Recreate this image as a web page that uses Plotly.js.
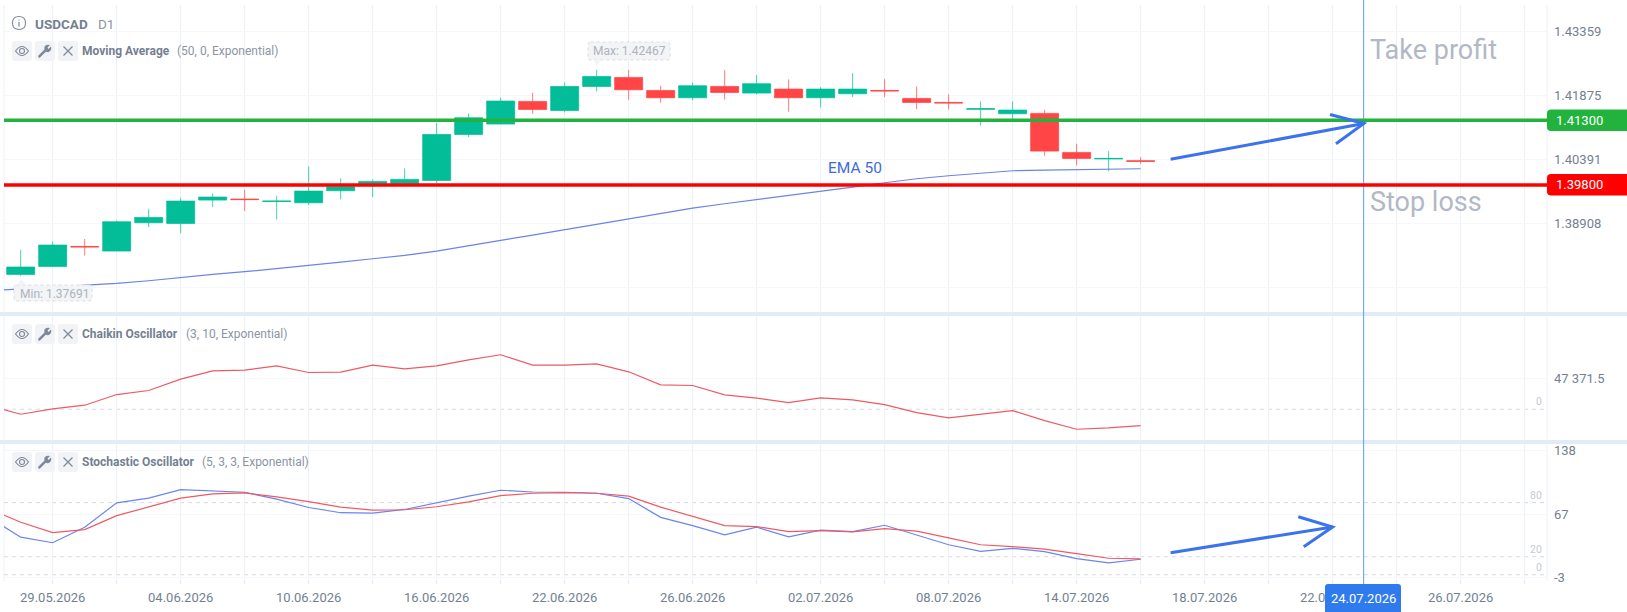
<!DOCTYPE html>
<html>
<head>
<meta charset="utf-8">
<script src="https://cdn.plot.ly/plotly-3.0.1.min.js"></script>
<style>html,body{margin:0;padding:0;background:#fff;overflow:hidden}#chart{width:1627px;height:612px}</style>
</head>
<body>
<div id="chart"></div>
<script>
// ---- data (bar index 0 = 29.05.2026) ----
const candleIdx = [-1,0,1,2,3,4,5,6,7,8,9,10,11,12,13,14,15,16,17,18,19,20,21,22,23,24,25,26,27,28,29,30,31,32,33,34];
const open  = [1.37725,1.37910,1.38374,1.38266,1.38923,1.38907,1.39448,1.39472,1.39414,1.39386,1.39665,1.39835,1.39835,1.39904,1.40971,1.41211,1.41736,1.41527,1.42084,1.42293,1.41991,1.41821,1.42084,1.41929,1.42022,1.41821,1.41914,1.41991,1.41806,1.41713,1.41555,1.41450,1.41458,1.40554,1.40402,1.40360];
const high  = [1.38297,1.38490,1.38544,1.38977,1.39247,1.39502,1.39603,1.39688,1.39549,1.40229,1.39951,1.39928,1.40183,1.41234,1.41458,1.41821,1.41937,1.42177,1.42467,1.42463,1.42099,1.42177,1.42460,1.42347,1.42246,1.42068,1.42393,1.42254,1.42084,1.41898,1.41736,1.41736,1.41543,1.40755,1.40584,1.40445];
const low   = [1.37691,1.37895,1.38165,1.38266,1.38822,1.38683,1.39286,1.39193,1.39000,1.39332,1.39464,1.39518,1.39835,1.39835,1.40909,1.41211,1.41450,1.41481,1.41968,1.41775,1.41705,1.41759,1.41782,1.41898,1.41497,1.41597,1.41837,1.41837,1.41558,1.41551,1.41180,1.41296,1.40476,1.40252,1.40113,1.40291];
const close = [1.37895,1.38405,1.38362,1.38946,1.39046,1.39425,1.39518,1.39460,1.39425,1.39657,1.39757,1.39881,1.39928,1.40971,1.41357,1.41744,1.41551,1.42084,1.42316,1.42007,1.41821,1.42099,1.41945,1.42146,1.41821,1.42022,1.42022,1.41979,1.41713,1.41700,1.41566,1.41535,1.40584,1.40414,1.40414,1.40348];

const lineIdx = [-2,-1,0,1,2,3,4,5,6,7,8,9,10,11,12,13,14,15,16,17,18,19,20,21,22,23,24,25,26,27,28,29,30,31,32,33,34];
const ema50 = [1.37346,1.37385,1.37423,1.37462,1.37516,1.37578,1.37655,1.37725,1.37787,1.37856,1.37933,1.38011,1.38088,1.38165,1.38266,1.38382,1.38513,1.38637,1.38760,1.38884,1.39008,1.39131,1.39263,1.39363,1.39464,1.39557,1.39657,1.39750,1.39850,1.39943,1.40013,1.40074,1.40128,1.40144,1.40152,1.40167,1.40175];
const chaikin = [6252,-7815,521,6252,22924,29176,46890,59915,60957,67730,57310,57831,68772,63041,67730,77108,84923,68772,68772,70856,58352,38033,36991,22403,17193,10420,17714,14588,7294,-5210,-13546,-7815,-2084,-17714,-31260,-29176,-25529];
const stochK = [63.7,41.7,35.5,52.7,79.8,84.9,94.4,92.9,91.5,83.8,74.6,68.8,68.4,72.4,79.8,87.1,93.7,91.8,91.5,90.4,84.5,63.7,54.5,44.3,52.7,42.1,49.4,47.9,54.9,44.3,33.3,26.0,29.3,25.6,17.9,13.2,17.2];
const stochD = [73.5,58.2,46.8,50.1,65.5,75.4,84.9,89.6,90.7,86.4,81.2,75.0,71.7,72.1,75.4,80.9,87.8,90.4,91.1,90.4,87.1,75.0,65.1,54.5,53.4,47.9,49.0,47.6,51.2,48.3,41.0,33.3,31.1,28.5,23.4,18.3,17.6];

const xTickVals = [0,2,4,6,8,10,12,14,16,18,20,22,24,26,28,30,32,34,36,38,40,42,44,46];
const xTickText = ['29.05.2026','','04.06.2026','','10.06.2026','','16.06.2026','','22.06.2026','','26.06.2026','','02.07.2026','','08.07.2026','','14.07.2026','','18.07.2026','','22.07.2026','','26.07.2026',''];
const priceTicks = [1.43359,1.41875,1.40391,1.38908,1.37424];
const priceText  = ['1.43359','1.41875','1.40391','1.38908',''];
const chaikinTicks = [47371.5];
const chaikinText  = ['47 371.5'];
const stochTicks = [138,67,-3];
const takeProfit = 1.413, stopLoss = 1.398, cursorIdx = 40.97;

// ---- palette ----
const UP='#02BD98', DOWN='#FF4545', UP_WICK='rgba(2,189,152,0.72)', DOWN_WICK='rgba(255,69,69,0.72)', GRID_V='#EBF0FA', GRID_H='#F5F7FD', BAND='#E3EAFA',
      TXT='#747F92', TXT2='#8C95A4', ICON='#7E8898', BTN='#F2F3F6', ARROW='#3B73EE', NOTE='#B2B8C4';

// ---- page pixel helpers for decorations (plot area: x 4..1547, y 5..579) ----
const L=4, R=1547, T=5, B=579;
const PX=x=>(x-L)/(R-L), PY=y=>(B-y)/(B-T);
const P=s=>{let i=0;return s.replace(/-?\d+(\.\d+)?/g,m=>{const v=parseFloat(m);return (i++%2===0?PX(v):PY(v)).toFixed(6);});};
const path=(d,o)=>Object.assign({type:'path',xref:'paper',yref:'paper',path:P(d),layer:'above',line:{width:0}},o);
const rr=(a,b,c,d,r)=>`M ${a+r} ${b} L ${c-r} ${b} Q ${c} ${b} ${c} ${b+r} L ${c} ${d-r} Q ${c} ${d} ${c-r} ${d} L ${a+r} ${d} Q ${a} ${d} ${a} ${d-r} L ${a} ${b+r} Q ${a} ${b} ${a+r} ${b} Z`;
const txt=(text,x,y,size,color,o)=>Object.assign({text,xref:'paper',yref:'paper',x:PX(x),y:PY(y),xanchor:'left',yanchor:'middle',showarrow:false,borderpad:0,font:{family:'Roboto',size,color}},o);

const shapes=[], anns=[];

// pane frame
shapes.push({type:'line',xref:'paper',yref:'paper',x0:0,x1:0,y0:PY(581),y1:1,line:{color:GRID_V,width:1},layer:'below'});
shapes.push({type:'line',xref:'paper',yref:'paper',x0:1,x1:1,y0:PY(581),y1:1,line:{color:GRID_V,width:1},layer:'below'});

// level lines
const levels=[['y2',0,'0'],['y3',80,'80'],['y3',20,'20'],['y3',0,'0']];
levels.forEach(([yr,v,t])=>{
  shapes.push({type:'line',xref:'paper',yref:yr,x0:0,x1:1,y0:v,y1:v,layer:'below',line:{color:'#D6D9E0',width:1,dash:'4px,4px'}});
  anns.push({text:t,xref:'paper',yref:yr,x:PX(1544),y:v,xanchor:'right',yanchor:'bottom',yshift:-1,showarrow:false,font:{family:'Roboto',size:10.5,color:'#C6CAD2'}});
});

// separators
[[312,316],[440,444]].forEach(([a,b])=>shapes.push({type:'rect',xref:'paper',yref:'paper',x0:PX(0),x1:PX(1627),y0:PY(b),y1:PY(a),fillcolor:BAND,line:{width:0},layer:'above'}));

// cursor
shapes.push({type:'line',xref:'x',yref:'paper',x0:cursorIdx,x1:cursorIdx,y0:PY(585),y1:PY(0),line:{color:'#5C9BF2',width:1},layer:'above'});
shapes.push(path(rr(1325,584,1401,616,3),{fillcolor:'#2F7BEE'}));
anns.push(txt('24.07.2026',1363.3,598,13,'#FFFFFF',{xanchor:'center'}));

// take profit / stop loss lines and tags
[[takeProfit,'#22B33E','1.41300',120.2],[stopLoss,'#FF0000','1.39800',184.7]].forEach(([v,c,t,py])=>{
  shapes.push({type:'line',xref:'paper',yref:'y',x0:0,x1:1,y0:v,y1:v,line:{color:c,width:3.5},layer:'above'});
  shapes.push(path(`M 1551 ${py-10.7} L 1627 ${py-10.7} L 1627 ${py+10.7} L 1551 ${py+10.7} Q 1547 ${py+10.7} 1547 ${py+6.7} L 1547 ${py-6.7} Q 1547 ${py-10.7} 1551 ${py-10.7} Z`,{fillcolor:c}));
  anns.push(txt(t,1555.5,py,13,'#FFFFFF'));
});

// hand drawn arrows
const arrow=(x0,y0,x1,y1,ax,ay,bx,by)=>{
  const o={line:{color:ARROW,width:3}};
  shapes.push(path(`M ${x0} ${y0} L ${x1} ${y1}`,o));
  shapes.push(path(`M ${ax} ${ay} L ${x1} ${y1} L ${bx} ${by}`,o));
};
arrow(1170.6,159.3,1363.9,123.5,1330,114.5,1336,143.7);
arrow(1170.6,552.7,1332.6,527,1298.3,516.7,1303.7,546.7);

// tooltips
function tip(a,b,c,d,tx,ty,text,dx){
  const dn=ty>d, base=dn?d:b;
  shapes.push(path(rr(a,b,c,d,2.5),{fillcolor:'#F3F4F6',line:{color:'#DADDE3',width:1,dash:'dot'}}));
  shapes.push(path(`M ${tx-3} ${base} L ${tx} ${ty} L ${tx+6} ${base} Z`,{fillcolor:'#F3F4F6'}));
  anns.push(txt(text,(a+c)/2+dx,(b+d)/2+0.5,12,'#AEB3BE',{xanchor:'center'}));
}
tip(588,42,670,60,596.6,65.5,'Max: 1.42467',0);
tip(14,285,92,301,20.7,279,'Min: 1.37691',1.5);

// indicator rows
function row(y,name,params,px){
  [[12,32],[35,55],[58,78]].forEach(([a,b])=>shapes.push(path(rr(a,y-10,b,y+10,3),{fillcolor:BTN})));
  const I={line:{color:ICON,width:1.1}};
  // eye
  shapes.push(path(`M 15.5 ${y} Q 22 ${y-9} 28.5 ${y} Q 22 ${y+9} 15.5 ${y} Z`,I));
  shapes.push(path(`M 19.5 ${y} Q 19.5 ${y-2.5} 22 ${y-2.5} Q 24.5 ${y-2.5} 24.5 ${y} Q 24.5 ${y+2.5} 22 ${y+2.5} Q 19.5 ${y+2.5} 19.5 ${y} Z`,I));
  // wrench
  const w=(dx,dy)=>`${45+dx} ${y+dy}`;
  shapes.push(path(`M ${w(-6.5,4.5)} L ${w(-0.5,-1.5)} Q ${w(-1.5,-5)} ${w(1.5,-6)} Q ${w(3,-6.7)} ${w(5,-6)} L ${w(2.5,-3.5)} L ${w(3.5,-2)} L ${w(6,-4.5)} Q ${w(7,-1.5)} ${w(4.5,0.5)} Q ${w(3,1.8)} ${w(0.8,0.8)} L ${w(-5,6.5)} Q ${w(-6,7)} ${w(-6.8,6)} Q ${w(-7,5)} ${w(-6.5,4.5)} Z`,{fillcolor:ICON}));
  // x
  shapes.push(path(`M 63.5 ${y-4.5} L 72.5 ${y+4.5} M 72.5 ${y-4.5} L 63.5 ${y+4.5}`,{line:{color:ICON,width:1.2}}));
  anns.push(txt('<b>'+name+'</b>',80.5,y,12,TXT));
  anns.push(txt(params,px,y,12,TXT2));
}
row(51,'Moving Average','(50, 0, Exponential)',176);
row(334,'Chaikin Oscillator','(3, 10, Exponential)',184.5);
row(462,'Stochastic Oscillator','(5, 3, 3, Exponential)',201);

// header
shapes.push(path(`M 12.5 23 Q 12.5 16.5 19 16.5 Q 25.5 16.5 25.5 23 Q 25.5 29.5 19 29.5 Q 12.5 29.5 12.5 23 Z`,{line:{color:ICON,width:1.1}}));
shapes.push(path(`M 19 22 L 19 26.5 M 19 19.5 L 19 20.5`,{line:{color:ICON,width:1.2}}));
anns.push(txt('<b>USDCAD</b>',33.5,23.5,13.5,TXT));
anns.push(txt('D1',97,23.5,13.5,TXT2));

// notes
anns.push(txt('Take profit',1369,50.5,27,NOTE));
anns.push(txt('Stop loss',1369,201.5,27,NOTE));
anns.push(txt('EMA 50',855,168,15.5,'#4269DC',{xanchor:'center'}));

const line=(y,yaxis,color)=>({type:'scatter',mode:'lines',x:lineIdx,y,xaxis:'x',yaxis,line:{color,width:1.2},hoverinfo:'skip',showlegend:false});

const traces=[
  {type:'candlestick',x:candleIdx,open,high,low,close,xaxis:'x',yaxis:'y',showlegend:false,whiskerwidth:0,
   increasing:{line:{color:UP_WICK,width:1},fillcolor:UP},decreasing:{line:{color:DOWN_WICK,width:1},fillcolor:DOWN},hoverinfo:'skip'},
  line(ema50,'y','#6C82E8'),
  line(chaikin,'y2','#EE5A63'),
  line(stochK,'y3','#6B84F0'),
  line(stochD,'y3','#EE5A63')
];

const yCommon={side:'right',anchor:'x',showgrid:true,gridcolor:GRID_H,gridwidth:1,zeroline:false,showline:false,ticks:'',fixedrange:true,
  tickfont:{family:'Roboto',size:13,color:'#747F92'},tickmode:'array',ticklabelstandoff:6,automargin:false};

const layout={
  width:1627,height:612,margin:{l:L,r:1627-R,t:T,b:612-B,pad:0},
  paper_bgcolor:'#FFFFFF',plot_bgcolor:'#FFFFFF',showlegend:false,hovermode:false,
  boxgap:0.125,boxgroupgap:0,dragmode:false,
  xaxis:{anchor:'y3',range:[-1.522,46.70],tickmode:'array',tickvals:xTickVals,ticktext:xTickText,showgrid:true,gridcolor:GRID_V,gridwidth:1,
    zeroline:false,showline:false,ticks:'outside',ticklen:4,tickcolor:'#E3E8F4',tickwidth:1,tickangle:0,ticklabelstandoff:2,
    tickfont:{family:'Roboto',size:13,color:'#747F92'},rangeslider:{visible:false},fixedrange:true,automargin:false},
  yaxis:Object.assign({},yCommon,{domain:[(B-312)/(B-T),1],range:[1.36853,1.43972],tickvals:priceTicks,ticktext:priceText}),
  yaxis2:Object.assign({},yCommon,{domain:[(B-440)/(B-T),(B-316)/(B-T)],range:[-47990,145400],tickvals:chaikinTicks,ticktext:chaikinText}),
  yaxis3:Object.assign({},yCommon,{domain:[0,(B-444)/(B-T)],range:[-4.7,145],tickvals:stochTicks,ticktext:stochTicks.map(String)}),
  shapes,annotations:anns
};
Plotly.newPlot('chart',traces,layout,{displayModeBar:false,staticPlot:true});
</script>
</body>
</html>
